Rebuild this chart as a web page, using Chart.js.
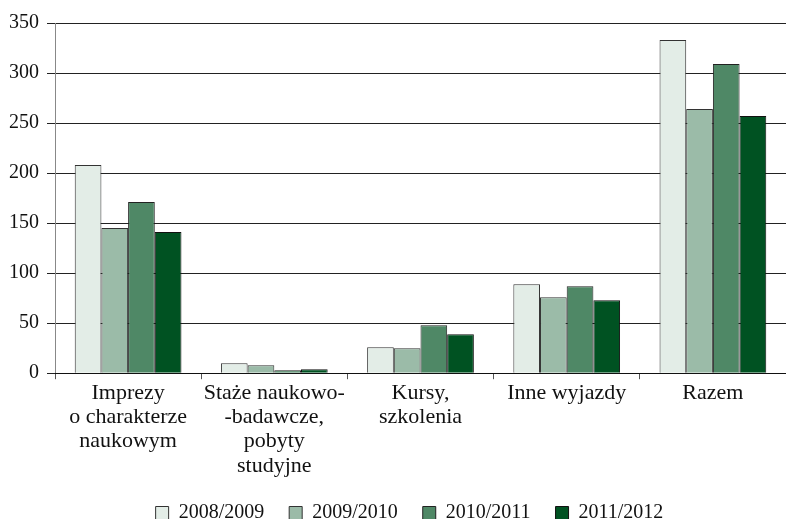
<!DOCTYPE html>
<html>
<head>
<meta charset="utf-8">
<script src="https://cdn.jsdelivr.net/npm/chart.js@4/dist/chart.umd.min.js"></script>
<style>
  html, body { margin: 0; padding: 0; background: #fff; }
  #wrap { width: 786px; height: 519px; }
</style>
</head>
<body>
<div id="wrap"><canvas id="chart" width="786" height="519"></canvas></div>
<script>
// Kategorie (oś X)
const categories = [
  ['Imprezy', 'o charakterze', 'naukowym'],
  ['Staże naukowo-', '-badawcze,', 'pobyty', 'studyjne'],
  ['Kursy,', 'szkolenia'],
  'Inne wyjazdy',
  'Razem'
];

// Lata akademickie
const years = ['2008/2009', '2009/2010', '2010/2011', '2011/2012'];

// Wartości dla każdego roku
const v2008 = [208, 10, 26, 89, 333];
const v2009 = [145, 8, 25, 76, 264];
const v2010 = [171, 3, 48, 87, 309];
const v2011 = [141, 4, 39, 73, 257];

// Oś Y
const yTicks = [0, 50, 100, 150, 200, 250, 300, 350];

// Paleta zieleni
const fills = ['#e3ede7', '#9bbba8', '#4f8866', '#005222'];
const borders = ['#333333', '#333333', '#222222', '#111111'];

const series = [v2008, v2009, v2010, v2011];
const fontFamily = '"Liberation Serif", "Times New Roman", serif';

const datasets = series.map((vals, i) => ({
  label: years[i],
  data: vals,
  backgroundColor: fills[i],
  borderColor: borders[i],
  borderWidth: 1,
  borderSkipped: 'bottom',
  categoryPercentage: 0.73,
  barPercentage: 1.0,
}));

// legenda w oryginale jest lekko przesunięta w prawo
const legendShift = {
  id: 'legendShift',
  afterLayout(chart) {
    if (!chart.legend) return;
    chart.legend.left += 16;
    chart.legend.right += 16;
    chart.legend.top -= 2;
    chart.legend.bottom -= 2;
  },
};

new Chart(document.getElementById('chart'), {
  type: 'bar',
  data: { labels: categories, datasets },
  plugins: [legendShift],
  options: {
    responsive: false,
    animation: false,
    devicePixelRatio: 1,
    layout: { padding: { left: 1, right: 0, top: 23, bottom: -16 } },
    scales: {
      y: {
        min: 0,
        max: 350,
        afterBuildTicks: (axis) => { axis.ticks = yTicks.map(v => ({ value: v })); },
        ticks: { color: '#111', font: { family: fontFamily, size: 20 }, padding: 8 },
        grid: { color: '#222', lineWidth: 1, tickLength: 8, drawTicks: true },
        border: { display: true, color: '#888', width: 1 },
      },
      x: {
        ticks: {
          color: '#111',
          font: { family: fontFamily, size: 22, lineHeight: 1.1 },
          padding: 2,
          maxRotation: 0,
          autoSkip: false,
        },
        grid: { offset: true, drawOnChartArea: false, color: '#555', tickLength: 6 },
        border: { display: true, color: '#111', width: 1 },
      },
    },
    plugins: {
      legend: {
        position: 'bottom',
        labels: {
          color: '#111',
          font: { family: fontFamily, size: 20 },
          boxWidth: 13,
          boxHeight: 13,
          padding: 25,
        },
      },
      tooltip: { enabled: false },
    },
  },
});
</script>
</body>
</html>
